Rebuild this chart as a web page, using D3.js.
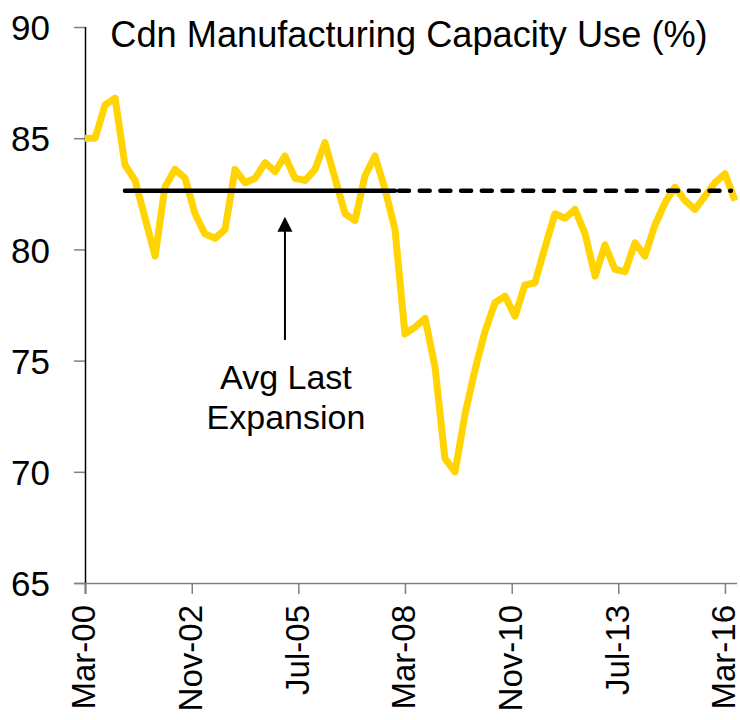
<!DOCTYPE html>
<html>
<head>
<meta charset="utf-8">
<script src="https://cdn.jsdelivr.net/npm/d3@7"></script>
<style>
  body { margin: 0; background: #fff; }
  svg text { font-family: "Liberation Sans", Arial, sans-serif; fill: #000; }
  .line { fill: none; stroke: #ffd400; stroke-width: 7; stroke-linejoin: round; }
</style>
</head>
<body>
<svg id="svg" width="740" height="720"></svg>
<script>
// quarterly capacity use, Mar-00 .. Jun-16
const startQuarter = "Mar-00";
const capacity = [
  85.0, 85.0, 86.5, 86.8, 83.8, 83.1, 81.4, 79.7, 82.8, 83.6, 83.2, 81.6,
  80.7, 80.5, 80.9, 83.6, 83.0, 83.2, 83.9, 83.5, 84.2, 83.2, 83.1, 83.6,
  84.8, 83.2, 81.6, 81.3, 83.3, 84.2, 82.7, 80.9, 76.2, 76.5, 76.9, 74.7,
  70.6, 70.0, 72.6, 74.6, 76.3, 77.6, 77.9, 77.0, 78.4, 78.5, 80.1, 81.6,
  81.4, 81.8, 80.7, 78.8, 80.2, 79.1, 79.0, 80.3, 79.7, 81.1, 82.1, 82.8,
  82.2, 81.8, 82.4, 83.0, 83.4, 82.2
];
const tickLabels = ["Mar-00", "Nov-02", "Jul-05", "Mar-08", "Nov-10", "Jul-13", "Mar-16"];
const yTicks = [65, 70, 75, 80, 85, 90];

const avgValue = 82.64;
const avgStart = "Mar-01";
const avgSplit = "Dec-07";
const avgEnd = "Jun-16";

const title = "Cdn Manufacturing Capacity Use (%)";
const noteLines = ["Avg Last", "Expansion"];
const arrowAt = "Mar-05";

let container = d3.select("#svg");
const parse = d3.timeParse("%b-%y");
const start = parse(startQuarter);

let data = capacity.map((v, i) => ({ date: d3.timeMonth.offset(start, 3 * i), value: v }));

let xScale = d3.scaleTime().domain([start, data[data.length - 1].date]).range([85, 735]);
let yScale = d3.scaleLinear().domain([65, 90]).range([583, 27]);

// y axis
let yAxis = container.append("g")
  .attr("transform", "translate(85,0)")
  .call(d3.axisLeft(yScale).tickValues(yTicks).tickSize(11).tickPadding(24).tickFormat(d3.format("d")));
yAxis.select(".domain").remove();
yAxis.selectAll(".tick line").attr("stroke", "#808080").attr("stroke-width", 1.5);
yAxis.selectAll("text").style("font-size", "35px").attr("dy", "0.36em");
container.append("line")
  .attr("x1", 85.5).attr("x2", 85.5)
  .attr("y1", yScale(90)).attr("y2", 594)
  .attr("stroke", "#000").attr("stroke-width", 1.5);

// x axis
let xAxis = container.append("g")
  .attr("transform", "translate(0,583)")
  .call(d3.axisBottom(xScale).tickValues(tickLabels.map(parse)).tickSize(11).tickFormat(d3.timeFormat("%b-%y")));
xAxis.select(".domain").attr("d", "M74,0.5H737").attr("stroke", "#808080").attr("stroke-width", 1.5);
xAxis.selectAll(".tick line").attr("stroke", "#808080").attr("stroke-width", 1.5);
xAxis.selectAll("text")
  .style("font-size", "33px")
  .attr("text-anchor", "end")
  .attr("transform", "rotate(-90)")
  .attr("x", -22)
  .attr("y", 0)
  .attr("dy", "0.3em");

// data line
let linegenerate = d3.line()
  .x((d) => xScale(d.date))
  .y((d) => yScale(d.value));
container.append("path")
  .datum(data)
  .attr("class", "line")
  .attr("d", linegenerate);

// average of last expansion
container.append("line")
  .attr("x1", xScale(parse(avgStart))).attr("x2", xScale(parse(avgSplit)))
  .attr("y1", yScale(avgValue)).attr("y2", yScale(avgValue))
  .attr("stroke", "#000").attr("stroke-width", 4.5).attr("stroke-linecap", "round");
container.append("line")
  .attr("x1", xScale(parse(avgSplit)) + 4).attr("x2", xScale(parse(avgEnd)) - 4)
  .attr("y1", yScale(avgValue)).attr("y2", yScale(avgValue))
  .attr("stroke", "#000").attr("stroke-width", 4.5).attr("stroke-linecap", "round")
  .attr("stroke-dasharray", "10,10.7");

// arrow
const ax = xScale(parse(arrowAt));
container.append("line")
  .attr("x1", ax).attr("x2", ax)
  .attr("y1", yScale(75.93)).attr("y2", yScale(81.1))
  .attr("stroke", "#000").attr("stroke-width", 2);
container.append("path")
  .attr("d", "M" + ax + "," + yScale(81.47) + "l7.5,15h-15z")
  .attr("fill", "#000");

// note text
container.append("g")
  .selectAll("text")
  .data(noteLines)
  .enter()
  .append("text")
  .attr("x", ax + 1)
  .attr("y", (d, i) => 389 + i * 40)
  .attr("text-anchor", "middle")
  .style("font-size", "34px")
  .text((d) => d);

// title
let t = container.append("text")
  .attr("x", 409)
  .attr("y", 47)
  .attr("text-anchor", "middle")
  .style("font-size", "29px")
  .text(title);
const w = t.node().getComputedTextLength();
t.style("font-size", (29 * 598 / w).toFixed(1) + "px");
</script>
</body>
</html>
